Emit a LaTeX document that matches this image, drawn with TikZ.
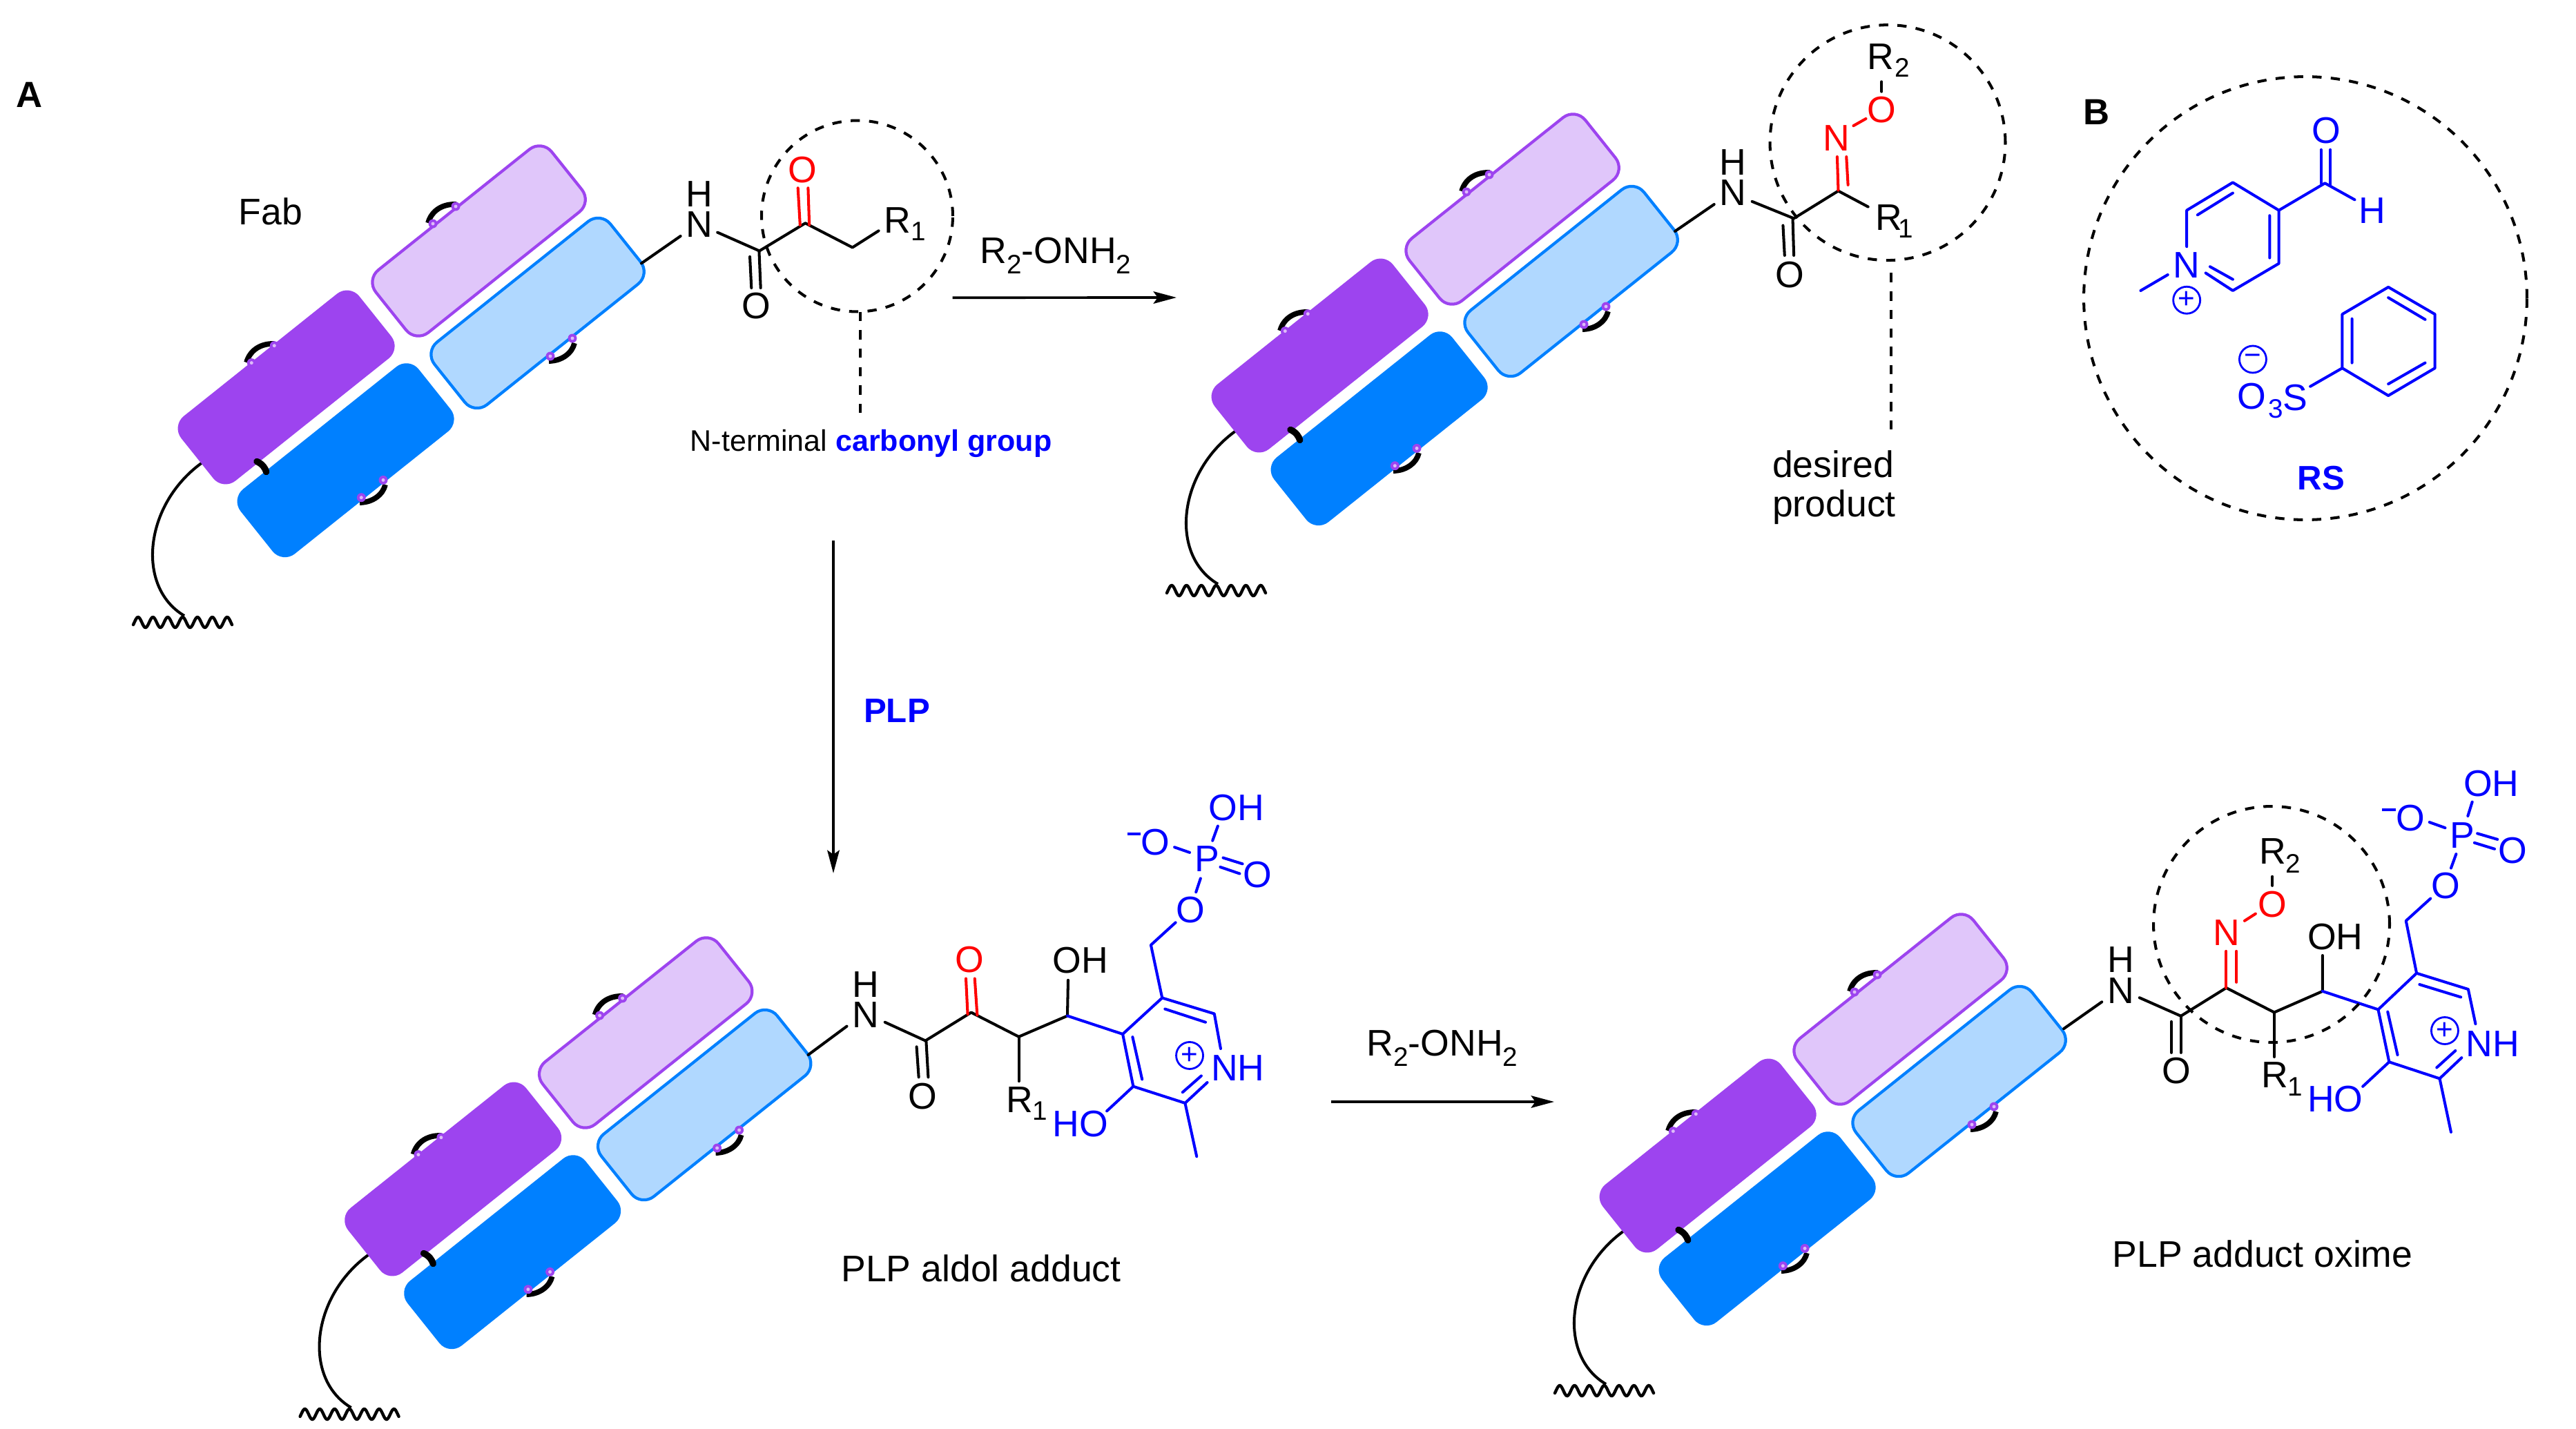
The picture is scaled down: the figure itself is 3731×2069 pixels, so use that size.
\documentclass[tikz,border=0pt]{standalone}
\usepackage{fontspec}
\setmainfont{Liberation Sans}
\usetikzlibrary{arrows.meta}
\definecolor{dpur}{HTML}{9D44EF}
\definecolor{lpur}{HTML}{E0C6FA}
\definecolor{dblu}{HTML}{0080FF}
\definecolor{lblu}{HTML}{B0D8FF}
\definecolor{chemblue}{HTML}{0000FF}
\definecolor{chemred}{HTML}{FF0000}
\definecolor{dotc}{HTML}{DDBBF8}
\newcommand\bigsz{\fontsize{30.5}{36}\selectfont}
\newcommand\lsub[1]{\raisebox{-0.28em}{\fontsize{22}{22}\selectfont #1}}
\tikzset{
  dom/.style={rectangle,rotate=38.6,inner sep=0pt,rounded corners=0.46cm,
    minimum width=6.6cm,minimum height=2.4cm},
  domline/.style={dom,minimum width=6.52cm,minimum height=2.32cm,line width=2.4pt},
  bond/.style={line width=2.3pt,line cap=round,line join=round,black},
  rbond/.style={bond,chemred},
  bbond/.style={bond,chemblue},
  dcirc/.style={line width=2.3pt,dash pattern=on 7.6pt off 7.6pt,black},
  arr/.style={line width=2.1pt,-{Stealth[length=19pt,width=10pt,inset=3.5pt]}},
  lab/.style={inner sep=0pt,font=\bigsz},
  sublab/.style={inner sep=0pt,font=\fontsize{22}{22}\selectfont},
  chg/.style={circle,draw=chemblue,text=chemblue,line width=1.6pt,inner sep=0pt,
    minimum size=0.78cm,font=\fontsize{24}{24}\selectfont},
  zb/.style={shift={(900,100)},x=0.0089286cm,y=-0.007654cm},
  zc/.style={shift={(2500,0)},x=0.015699cm,y=-0.010204cm},
  zd/.style={shift={(1200,1120)},x=0.010204cm,y=-0.007654cm},
  ze/.style={shift={(2900,1080)},x=0.010599cm,y=-0.008163cm}
}
\newcommand\lab[4][black]{\node[lab,text=#1] (#2) at (#3) {#4};}
\newcommand\sublab[3]{\node[sublab] (#1) at (#2) {#3};}
\newcommand\dotpair[2]{%
  \fill[dpur] (#1) circle (0.13cm) (#2) circle (0.13cm);
  \fill[dotc] (#1) circle (0.05cm) (#2) circle (0.05cm);}
\newcommand\Fab[3]{%
\begin{scope}[shift={(#2,#3)}]
  \coordinate (#1ls) at (293,670);
  \coordinate (#1le) at (267,892);
  \draw[line width=2.3pt] (#1ls) .. controls (209,730) and (196,850) .. (#1le);
  \draw[line width=2.5pt,line cap=round,smooth] plot[domain=193:336,samples=120]
     (\x,{901.5-7.5*cos(360*((\x-200)/21.5))});
  \draw[line width=4.4pt] (357,525) .. controls (362,507) and (378,497) .. (398,498);
  \draw[line width=4.4pt] (558,702) .. controls (555,716) and (540,728) .. (521,728);
  \begin{scope}[shift={(263,-202)}]
    \draw[line width=4.4pt] (357,525) .. controls (362,507) and (378,497) .. (398,498);
  \end{scope}
  \begin{scope}[shift={(274,-205)}]
    \draw[line width=4.4pt] (558,702) .. controls (555,716) and (540,728) .. (521,728);
  \end{scope}
  \node[domline,fill=lpur,draw=dpur] (#1lp) at (693.6,349) {};
  \node[domline,fill=lblu,draw=dblu] (#1lb) at (778.6,453.5) {};
  \node[dom,fill=dpur] (#1dp) at (414.6,561) {};
  \node[dom,fill=dblu] (#1db) at (500.6,666.7) {};
  \draw[line width=5.4pt,line cap=round] (372,668.5) .. controls (380,672) and (384,678) .. (385.7,683.5);
  \dotpair{364.3,525.6}{397.3,500.7}
  \dotpair{555,695.4}{523.3,720.7}
  \dotpair{627,324}{660,299}
  \dotpair{829,490}{797,516}
\end{scope}}
\begin{document}
\begin{tikzpicture}[x=0.02cm,y=-0.02cm]
\useasboundingbox (0,0) rectangle (3731,2069);
\Fab{fa}{0}{0}
\Fab{fb}{1497}{-46}
\Fab{fc}{241.6}{1147}
\Fab{fd}{2059}{1113}

\node[lab,font=\fontsize{30}{36}\selectfont\bfseries] (labA) at (43,137) {A};
\lab{fabt}{392,306}{Fab}

% --- structure 1
\begin{scope}[zb]
\draw[bond] (65,735)--(192,632);
\lab{aN}{252,588}{N}\lab{aH}{252,472}{H}
\draw[bond] (312,618)--(448,688)--(597,583)--(750,675)--(835,612);
\draw[bond] (447,690)--(452,828) (417,710)--(422,828);
\lab{aO}{437,895}{O}
\draw[rbond] (580,590)--(573,450) (610,590)--(606,450);
\lab[chemred]{aOr}{588,382}{O}
\lab{aR}{895,572}{R}\sublab{aRs}{965,615}{1}
\coordinate (a1s) at (1075,865);
\coordinate (dlas) at (775,918);
\coordinate (dlae) at (775,1305);
\end{scope}
\draw[dcirc] (1241.5,313) circle (2.77cm);
\draw[dcirc] (dlas)--(dlae);
\node[inner sep=0pt,font=\fontsize{24.5}{28}\selectfont] (nterm) at (1261.6,642.5)
  {N-terminal \textcolor{chemblue}{\bfseries carbonyl group}};

% --- arrow R2-ONH2 top
\coordinate (a1e) at (1704,431);
\draw[arr] (a1s)--(a1e);
\node[lab] (rea) at (1529,370) {R\lsub{2}-ONH\lsub{2}};

% --- structure 2
\draw[bond] (2426,335)--(2482.7,296);
\lab{bN}{2509.5,279}{N}\lab{bH}{2509.5,234.6}{H}
\begin{scope}[zc]
\draw[bond] (48,572)--(125,620)--(207,542)--(262,587);
\draw[bond] (105,640)--(108,725) (123,622)--(125,725);
\lab{bO}{117,780}{O}
\draw[rbond] (205,445)--(207,540) (222,445)--(225,525);
\lab[chemred]{bNr}{203,393}{N}
\draw[rbond] (235,357)--(258,337);
\lab[chemred]{bOr}{287,311}{O}
\draw[bond] (287,232)--(287,260);
\lab{bRb}{285,160}{R}\sublab{bRbs}{325,192}{2}
\lab{bRa}{300,618}{R}\sublab{bRas}{332,650}{1}
\coordinate (dlbs) at (304,775);
\coordinate (dlbe) at (304,1230);
\end{scope}
\draw[dcirc] (2734,206.6) circle (3.41cm);
\draw[dcirc] (dlbs)--(dlbe);
\node[lab,align=left,anchor=west] (desi) at (2566.7,672) {desired};
\node[lab,align=left,anchor=west] (prod) at (2566.7,734.7) {product};

% --- panel B
\draw[dcirc] (3339,432) circle (6.42cm);
\begin{scope}[zc]
\node[lab,font=\fontsize{30}{36}\selectfont\bfseries] (labB) at (684,318) {B};
\draw[bbond] (850,700)--(850,597)--(935,518)--(1020,597)--(1020,748)--(935,825)--(885,775);
\draw[bbond] (870,610)--(935,548) (1003,612)--(1003,732) (893,757)--(935,793);
\draw[bbond] (815,780)--(765,825);
\lab[chemblue]{cN}{850,752}{N}
\node[chg] (cP) at (850,852) {+};
\draw[bbond] (1020,597)--(1105,520)--(1160,567);
\draw[bbond] (1098,520)--(1098,425) (1115,525)--(1115,425);
\lab[chemblue]{cO}{1107,370}{O}
\lab[chemblue]{cH}{1192,598}{H}
\draw[bbond] (1222,815)--(1308,892)--(1308,1045)--(1222,1123)--(1137,1045)--(1137,892)--cycle;
\draw[bbond] (1222,845)--(1290,907) (1155,905)--(1155,1030) (1222,1090)--(1290,1030);
\draw[bbond] (1137,1045)--(1078,1097);
\lab[chemblue]{cO3}{970,1125}{O}
\node[sublab,text=chemblue] (cO3s) at (1015,1160) {3};
\lab[chemblue]{cS}{1050,1128}{S}
\node[chg] (cM) at (972,1020) {−};
\node[lab,text=chemblue,font=\fontsize{28}{34}\selectfont\bfseries] (rs) at (1098,1358) {RS};
\end{scope}

% --- vertical arrow
\coordinate (vs) at (1207,783);
\coordinate (ve) at (1207,1265);
\draw[arr] (vs)--(ve);
\node[lab,text=chemblue,font=\fontsize{28}{34}\selectfont\bfseries] (plp) at (1299,1030) {PLP};

% --- structure 3
\draw[bond] (1170.6,1528)--(1226.5,1486.6);
\begin{scope}[zd]
\lab{dN}{105,915}{N}\lab{dH}{105,800}{H}
\draw[bond] (160,942)--(275,1012)--(405,905)--(540,997)--(678,918)--(680,783);
\draw[bond] (540,997)--(540,1165);
\draw[bond] (277,1012)--(283,1150) (250,1035)--(256,1150);
\lab{dO}{268,1222}{O}
\draw[rbond] (395,912)--(390,777) (422,915)--(415,777);
\lab[chemred]{dOr}{400,705}{O}
\lab{dR}{543,1235}{R}\sublab{dRs}{600,1278}{1}
\lab{dOH}{715,708}{OH}
\draw[bbond] (678,918)--(835,987)--(947,850)--(1095,910)--(1113,1042);
\draw[bbond] (835,987)--(865,1185)--(1012,1248)--(1075,1170);
\draw[bbond] (955,892)--(1070,942) (1058,1145)--(1005,1207) (863,998)--(890,1158);
\draw[bbond] (1012,1248)--(1045,1450) (865,1185)--(790,1278);
\draw[bbond] (947,850)--(915,650)--(985,565);
\draw[bbond] (1043,450)--(1056,398) (1090,255)--(1105,200) (1120,320)--(1175,343) (1112,355)--(1167,380) (1025,300)--(982,280);
\draw[bbond,line cap=butt] (848,229)--(886,229);
\lab[chemblue]{dHO}{715,1328}{HO}
\lab[chemblue]{dNH}{1162,1115}{NH}
\node[chg] (dP) at (1025,1068) {+};
\lab[chemblue]{dO1}{1027,518}{O}
\lab[chemblue]{dPh}{1075,325}{P}
\lab[chemblue]{dOHb}{1158,130}{OH}
\lab[chemblue]{dO2}{1218,385}{O}
\lab[chemblue]{dO3}{928,262}{O}
\end{scope}
\node[lab,font=\fontsize{30.5}{36}\selectfont] (adda) at (1421,1837) {PLP aldol adduct};

% --- bottom arrow
\coordinate (bs) at (1928,1596);
\coordinate (be) at (2251,1596);
\draw[arr] (bs)--(be);
\node[lab] (reb) at (2089,1518) {R\lsub{2}-ONH\lsub{2}};

% --- structure 4
\begin{scope}[ze]
\draw[bond] (168,1005)--(272,910);
\lab{eN}{325,870}{N}\lab{eH}{325,760}{H}
\draw[bond] (375,895)--(488,960)--(612,860)--(743,947)--(875,872)--(875,745);
\draw[bond] (743,947)--(743,1105);
\draw[bond] (488,960)--(488,1090) (462,980)--(462,1090);
\lab{eO}{475,1155}{O}
\draw[rbond] (612,860)--(612,730) (640,840)--(640,730);
\lab[chemred]{eNr}{613,665}{N}
\draw[rbond] (662,622)--(692,597);
\lab[chemred]{eOr}{738,563}{O}
\draw[bond] (738,465)--(738,497);
\lab{eRb}{740,375}{R}\sublab{eRbs}{795,420}{2}
\lab{eRa}{745,1170}{R}\sublab{eRas}{800,1210}{1}
\lab{eOH}{910,678}{OH}
\draw[bbond] (875,872)--(1027,937)--(1132,808)--(1273,865)--(1293,988);
\draw[bbond] (1027,937)--(1057,1123)--(1195,1182)--(1255,1108);
\draw[bbond] (1140,848)--(1253,893) (1238,1083)--(1187,1143) (1053,945)--(1080,1098);
\draw[bbond] (1195,1182)--(1226,1372) (1057,1123)--(985,1210);
\draw[bbond] (1132,808)--(1103,622)--(1170,543);
\draw[bbond] (1226,435)--(1240,385) (1272,250)--(1284,200) (1298,312)--(1353,333) (1290,345)--(1345,367) (1210,292)--(1167,272);
\draw[bbond,line cap=butt] (1038,227)--(1076,227);
\lab[chemblue]{eHO}{910,1255}{HO}
\lab[chemblue]{eNH}{1340,1058}{NH}
\node[chg] (eP) at (1209,1012) {+};
\lab[chemblue]{eO1}{1211,497}{O}
\lab[chemblue]{ePh}{1257,318}{P}
\lab[chemblue]{eOHb}{1336,135}{OH}
\lab[chemblue]{eO2}{1395,373}{O}
\lab[chemblue]{eO3}{1116,258}{O}
\end{scope}
\draw[dcirc] (3290,1339) circle (3.42cm);
\node[lab,font=\fontsize{30.5}{36}\selectfont] (addb) at (3277,1816) {PLP adduct oxime};
\end{tikzpicture}
\end{document}
